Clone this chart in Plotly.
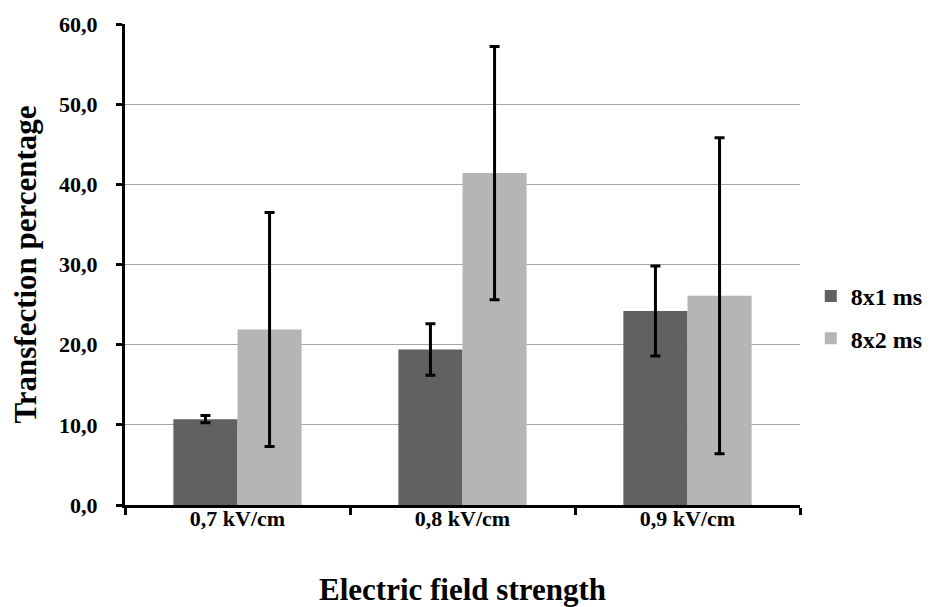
import plotly.graph_objects as go

# field strengths on the x axis
categories = ["0,7 kV/cm", "0,8 kV/cm", "0,9 kV/cm"]

# transfection percentage, mean and error per pulse setting
series_names = ["8x1 ms", "8x2 ms"]
pulse_1ms = [10.7, 19.4, 24.2]
pulse_1ms_err = [0.45, 3.2, 5.6]
pulse_2ms = [21.9, 41.4, 26.1]
pulse_2ms_err = [14.6, 15.8, 19.7]

y_ticks = [0, 10, 20, 30, 40, 50, 60]

serif = "Liberation Serif, Times New Roman, serif"

fig = go.Figure()

fig.add_trace(go.Bar(
    x=categories, y=pulse_1ms, name=series_names[0], legendgroup="a",
    marker=dict(color="#636064", line=dict(width=0)),
    error_y=dict(type="data", array=pulse_1ms_err, color="black", thickness=3, width=5),
))
fig.add_trace(go.Bar(
    x=categories, y=pulse_2ms, name=series_names[1], legendgroup="b",
    marker=dict(color="#b7b4b8", line=dict(width=0)),
    error_y=dict(type="data", array=pulse_2ms_err, color="black", thickness=3, width=5),
))

# the page body adds an 8px margin, so the figure is a bit smaller than the window
fig.update_layout(
    width=924, height=599,
    margin=dict(l=117, r=132, t=16, b=102, autoexpand=False),
    paper_bgcolor="white", plot_bgcolor="white",
    barmode="group", bargap=0.43, bargroupgap=0,
    separators=",.",
    font=dict(family=serif, color="black"),
    legend=dict(
        x=1.016, y=0.39, xanchor="left", yanchor="middle",
        font=dict(size=24, family=serif, weight="bold"),
        tracegroupgap=8, itemwidth=30,
    ),
)

fig.update_yaxes(
    range=[0, 60], tickvals=y_ticks, tickformat=".1f",
    automargin=False,
    showgrid=True, gridcolor="#a6a6a6", gridwidth=1,
    showline=True, linecolor="black", linewidth=3,
    ticks="outside", ticklen=6, tickwidth=3, tickcolor="black",
    ticklabelstandoff=14,
    tickfont=dict(size=22, family=serif, weight="bold"),
    title=dict(text="Transfection percentage", standoff=36,
               font=dict(size=31, family=serif, weight="bold")),
    zeroline=False,
)

fig.update_xaxes(
    automargin=False,
    showline=True, linecolor="black", linewidth=3,
    ticks="outside", tickson="boundaries", ticklen=7, tickwidth=3, tickcolor="black",
    ticklabelstandoff=-8,
    tickfont=dict(size=22, family=serif, weight="bold"),
    title=dict(text="Electric field strength", standoff=60,
               font=dict(size=31, family=serif, weight="bold")),
)

fig.write_html("out.html")
